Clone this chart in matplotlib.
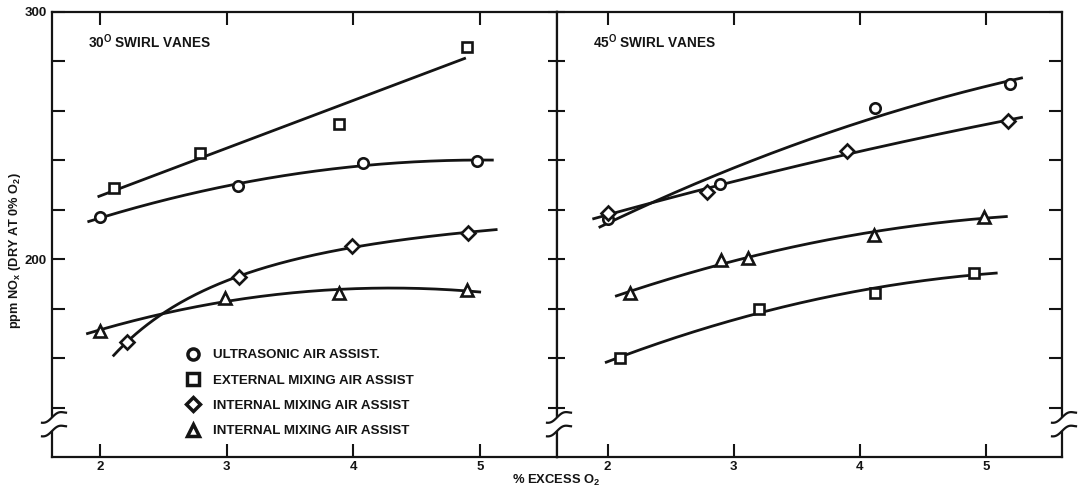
import numpy as np
import matplotlib
matplotlib.use("Agg")
import matplotlib.pyplot as plt
from matplotlib.lines import Line2D
from matplotlib.patches import Rectangle

plt.rcParams['font.family'] = ['Liberation Sans', 'DejaVu Sans']
plt.rcParams['font.weight'] = 'bold'
plt.rcParams['mathtext.fontset'] = 'custom'
plt.rcParams['mathtext.rm'] = 'Liberation Sans:bold'
plt.rcParams['mathtext.bf'] = 'Liberation Sans:bold'
plt.rcParams['mathtext.it'] = 'Liberation Sans:bold'

# ---- measured NOx (ppm, dry at 0% O2) vs % excess O2 ----
# 30 degree swirl vanes
x30_ultra = [2.00, 3.09, 4.08, 4.98]
y30_ultra = [217.0, 229.5, 239.0, 239.7]
x30_ext = [2.11, 2.79, 3.89, 4.90]
y30_ext = [228.8, 243.0, 254.7, 285.8]
x30_intd = [2.21, 3.10, 3.99, 4.91]
y30_intd = [166.5, 192.8, 205.4, 210.6]
x30_intt = [2.00, 2.99, 3.89, 4.90]
y30_intt = [171.0, 184.3, 186.4, 187.6]

# 45 degree swirl vanes
x45_ultra = [2.00, 2.89, 4.12, 5.19]
y45_ultra = [216.3, 230.4, 261.2, 270.9]
x45_ext = [2.10, 3.20, 4.12, 4.90]
y45_ext = [160.0, 179.9, 186.4, 194.4]
x45_intd = [2.00, 2.79, 3.90, 5.17]
y45_intd = [218.7, 227.0, 243.8, 255.9]
x45_intt = [2.18, 2.90, 3.11, 4.11, 4.98]
y45_intt = [186.3, 199.7, 200.5, 209.8, 217.1]

# x-range covered by each faired curve and the form of the fit:
# 'lin' straight line, 'quad' quadratic in x, 'inv' quadratic in 1/x (levelling off)
span30 = {'ultra': (1.90, 5.11), 'ext': (1.98, 4.89), 'intd': (2.10, 5.14), 'intt': (1.89, 5.01)}
span45 = {'ultra': (1.93, 5.29), 'ext': (1.98, 5.09), 'intd': (1.88, 5.29), 'intt': (2.06, 5.17)}
fit30 = {'ultra': 'quad', 'ext': 'lin', 'intd': 'inv', 'intt': 'quad'}
fit45 = {'ultra': 'quad', 'ext': 'quad', 'intd': 'quad', 'intt': 'quad'}

legend_labels = ['ULTRASONIC AIR ASSIST.', 'EXTERNAL MIXING AIR ASSIST',
                 'INTERNAL MIXING AIR ASSIST', 'INTERNAL MIXING AIR ASSIST']
markers = {'ultra': 'o', 'ext': 's', 'intd': 'D', 'intt': '^'}
msize = {'ultra': 7.5, 'ext': 7.5, 'intd': 7.0, 'intt': 8.5}

INK = '#141414'
W, H = 1085, 492


def fx(px):
    return px / W


def fy(py):
    return 1 - py / H


fig = plt.figure(figsize=(W / 100, H / 100), dpi=100)
axL = fig.add_axes([fx(52), fy(457), fx(557) - fx(52), fy(12) - fy(457)])
axR = fig.add_axes([fx(557), fy(457), fx(1062) - fx(557), fy(12) - fy(457)])


def faired(x, y, span, kind):
    x = np.asarray(x, float)
    xs = np.linspace(span[0], span[1], 200)
    if kind == 'lin':
        return xs, np.polyval(np.polyfit(x, y, 1), xs)
    if kind == 'inv':
        return xs, np.polyval(np.polyfit(1.0 / x, y, 2), 1.0 / xs)
    return xs, np.polyval(np.polyfit(x, y, 2), xs)


def draw_panel(ax, series, spans, kinds):
    for key, (x, y) in series.items():
        xs, ys = faired(x, y, spans[key], kinds[key])
        ax.plot(xs, ys, color=INK, lw=2.0, solid_capstyle='butt', zorder=3)
        ax.plot(x, y, ls='none', marker=markers[key], ms=msize[key], mfc='white',
                mec=INK, mew=1.9, zorder=4)


draw_panel(axL, {'ultra': (x30_ultra, y30_ultra), 'ext': (x30_ext, y30_ext),
                 'intd': (x30_intd, y30_intd), 'intt': (x30_intt, y30_intt)}, span30, fit30)
draw_panel(axR, {'ultra': (x45_ultra, y45_ultra), 'ext': (x45_ext, y45_ext),
                 'intd': (x45_intd, y45_intd), 'intt': (x45_intt, y45_intt)}, span45, fit45)

yt = np.arange(140, 301, 20)
for ax, xl in ((axL, (1.62, 5.61)), (axR, (1.60, 5.60))):
    ax.set_xlim(*xl)
    ax.set_ylim(120, 300)
    ax.set_xticks([2, 3, 4, 5])
    ax.set_xticklabels(['2', '3', '4', '5'])
    ax.set_yticks(yt)
    ax.tick_params(direction='in', length=9.5, width=1.5, top=True, right=True,
                   labelsize=9.5, pad=3, colors=INK)
    for s in ax.spines.values():
        s.set_linewidth(1.6)
        s.set_color(INK)

axL.set_yticklabels(['300' if v == 300 else '200' if v == 200 else '' for v in yt])
axR.set_yticklabels(['' for v in yt])
axL.tick_params(axis='y', pad=4)

# shorter ticks on the shared middle spine
for t in axL.yaxis.get_major_ticks():
    t.tick2line.set_markersize(6.5)
for t in axR.yaxis.get_major_ticks():
    t.tick1line.set_markersize(6.0)

# panel captions
axL.text(0.071, 0.933, r'30$^{\mathbf{O}}$ SWIRL VANES', transform=axL.transAxes,
         va='center', ha='left', fontsize=9.8, color=INK)
axR.text(0.071, 0.933, r'45$^{\mathbf{O}}$ SWIRL VANES', transform=axR.transAxes,
         va='center', ha='left', fontsize=9.8, color=INK)

# legend
handles = [Line2D([], [], ls='none', marker=markers[k], ms=msize[k] + 0.5, mfc='white',
                  mec=INK, mew=2.5) for k in ('ultra', 'ext', 'intd', 'intt')]
leg = axL.legend(handles, legend_labels, loc='upper left', bbox_to_anchor=(0.266, 0.243),
                 frameon=False, handlelength=1.0, handletextpad=1.0, labelspacing=0.98,
                 borderpad=0, borderaxespad=0, prop={'size': 9.6, 'weight': 'bold'})
for txt in leg.get_texts():
    txt.set_color(INK)

# axis titles
fig.text(fx(15), fy(251), r'ppm NO$_\mathbf{x}$ (DRY AT 0% O$_\mathbf{2}$)', rotation=90,
         ha='center', va='center', fontsize=9.2, color=INK)
fig.text(fx(556), fy(480), r'% EXCESS O$_\mathbf{2}$', ha='center', va='center',
         fontsize=9.4, color=INK)


# broken-axis marks on the vertical spines
def data_to_py(ax, yv):
    disp = ax.transData.transform((ax.get_xlim()[0], yv))
    return H - disp[1]


def squiggle(px, py):
    dx = np.linspace(-10, 14, 60)
    dy = 0.42 * dx + 2.2 * np.sin(np.pi * dx / 12.0)
    fig.add_artist(Line2D(fx(px + dx), fy(py - dy), color=INK, lw=1.6,
                          transform=fig.transFigure, zorder=20))


for spx, ax in ((52, axL), (557, axL), (1062, axR)):
    top = data_to_py(ax, 136.0)
    bot = data_to_py(ax, 130.5)
    fig.add_artist(Rectangle((fx(spx - 4), fy(bot)), 8 / W, (bot - top) / H,
                             facecolor='white', edgecolor='none',
                             transform=fig.transFigure, zorder=15))
    squiggle(spx, top)
    squiggle(spx, bot)

fig.savefig('out.png', dpi=100, facecolor='white')
